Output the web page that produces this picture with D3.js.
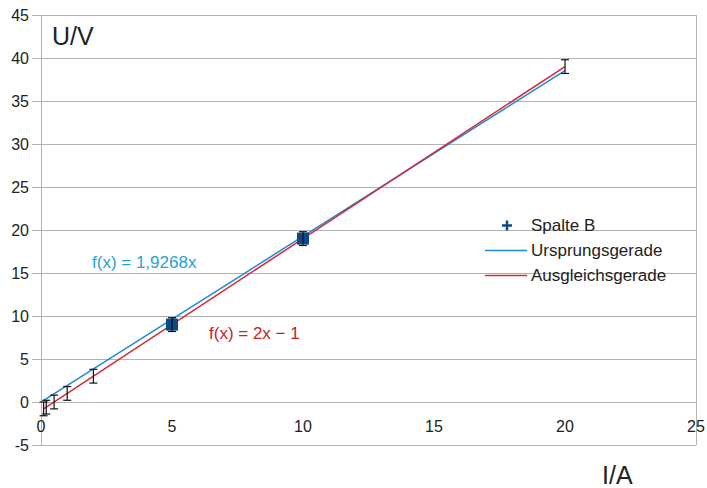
<!DOCTYPE html>
<html lang="de">
<head>
<meta charset="UTF-8">
<title>U/I</title>
<script src="https://d3js.org/d3.v7.min.js"></script>
<style>
  body { margin: 0; background: #fff; }
  text { font-family: "Liberation Sans", Arial, sans-serif; }
</style>
</head>
<body>
<script>
// measured values (Spalte B)
var current = [0.1, 0.2, 0.5, 1, 2, 5, 10, 20];
var voltage = [-0.8, -0.6, 0, 1, 3, 9, 19, 39];
var errU = 0.8;
var squareAt = [5, 10];
var xTicks = [0, 5, 10, 15, 20, 25];
var yTicks = [-5, 0, 5, 10, 15, 20, 25, 30, 35, 40, 45];
var slopeOrigin = 1.9268;
var fitSlope = 2, fitIntercept = -1;
var fitRange = [0.1, 20];

var width = 707, height = 488;
var svg = d3.select("body").append("svg")
    .attr("width", width).attr("height", height);

var x = d3.scaleLinear().domain([0, 25]).range([41, 696]);
var y = d3.scaleLinear().domain([-5, 45]).range([445, 15]);

// horizontal grid
svg.append("g").selectAll("line").data(yTicks).enter().append("line")
    .attr("x1", 32).attr("x2", x(25))
    .attr("y1", function (d) { return Math.round(y(d)) + 0.5; })
    .attr("y2", function (d) { return Math.round(y(d)) + 0.5; })
    .attr("stroke", "#b3b3b3");

// y axis line and right border
[0, 25].forEach(function (v) {
    svg.append("line")
        .attr("x1", Math.round(x(v)) + 0.5).attr("x2", Math.round(x(v)) + 0.5)
        .attr("y1", y(45)).attr("y2", y(-5))
        .attr("stroke", "#b3b3b3");
});

// y tick labels
svg.append("g").selectAll("text").data(yTicks).enter().append("text")
    .attr("x", 29).attr("y", function (d) { return y(d) + 6; })
    .attr("text-anchor", "end").attr("font-size", 16).attr("fill", "#222")
    .text(function (d) { return d; });

// x tick labels
svg.append("g").selectAll("text").data(xTicks).enter().append("text")
    .attr("x", function (d) { return x(d); }).attr("y", y(0) + 30)
    .attr("text-anchor", "middle").attr("font-size", 16).attr("fill", "#222")
    .text(function (d) { return d; });

// axis titles
svg.append("text").attr("x", 52).attr("y", 45).attr("font-size", 25).attr("fill", "#222").text("U/V");
svg.append("text").attr("x", 602).attr("y", 484).attr("font-size", 25).attr("fill", "#222").text("I/A");

// lines
var line = d3.line().x(function (d) { return x(d[0]); }).y(function (d) { return y(d[1]); });
svg.append("path")
    .datum(fitRange.map(function (v) { return [v, slopeOrigin * v]; }))
    .attr("d", line).attr("fill", "none").attr("stroke", "#1c8ad6").attr("stroke-width", 1.5);
svg.append("path")
    .datum(fitRange.map(function (v) { return [v, fitSlope * v + fitIntercept]; }))
    .attr("d", line).attr("fill", "none").attr("stroke", "#d42a36").attr("stroke-width", 1.5);

// markers
svg.append("g").selectAll("rect")
    .data(current.map(function (c, i) { return [c, voltage[i]]; })
        .filter(function (d) { return squareAt.indexOf(d[0]) >= 0; }))
    .enter().append("rect")
    .attr("x", function (d) { return x(d[0]) - 6; })
    .attr("y", function (d) { return y(d[1]) - 6; })
    .attr("width", 12).attr("height", 12)
    .attr("fill", "#0a4a87");

// error bars
var eb = svg.append("g").attr("stroke", "#111").attr("stroke-width", 1.2);
current.forEach(function (c, i) {
    var cx = x(c), top = y(voltage[i] + errU), bot = y(voltage[i] - errU);
    eb.append("line").attr("x1", cx).attr("x2", cx).attr("y1", top).attr("y2", bot);
    eb.append("line").attr("x1", cx - 4).attr("x2", cx + 4).attr("y1", top).attr("y2", top);
    eb.append("line").attr("x1", cx - 4).attr("x2", cx + 4).attr("y1", bot).attr("y2", bot);
});

// equation labels
svg.append("text").attr("x", 92).attr("y", 268).attr("font-size", 17).attr("fill", "#2a9fd6")
    .text("f(x) = 1,9268x");
svg.append("text").attr("x", 209).attr("y", 339).attr("font-size", 17).attr("fill", "#c9211e")
    .text("f(x) = 2x \u2212 1");

// legend
var lg = svg.append("g").attr("font-size", 17).attr("fill", "#222");
var plus = lg.append("g").attr("stroke", "#0a4a87").attr("stroke-width", 2.5);
plus.append("line").attr("x1", 502).attr("x2", 512).attr("y1", 225.5).attr("y2", 225.5);
plus.append("line").attr("x1", 507).attr("x2", 507).attr("y1", 220.5).attr("y2", 230.5);
lg.append("text").attr("x", 531).attr("y", 231).text("Spalte B");
lg.append("line").attr("x1", 485).attr("x2", 527).attr("y1", 250.5).attr("y2", 250.5)
    .attr("stroke", "#1c8ad6").attr("stroke-width", 1.5);
lg.append("text").attr("x", 531).attr("y", 256).text("Ursprungsgerade");
lg.append("line").attr("x1", 485).attr("x2", 527).attr("y1", 275.5).attr("y2", 275.5)
    .attr("stroke", "#d42a36").attr("stroke-width", 1.5);
lg.append("text").attr("x", 531).attr("y", 281).text("Ausgleichsgerade");
</script>
</body>
</html>
